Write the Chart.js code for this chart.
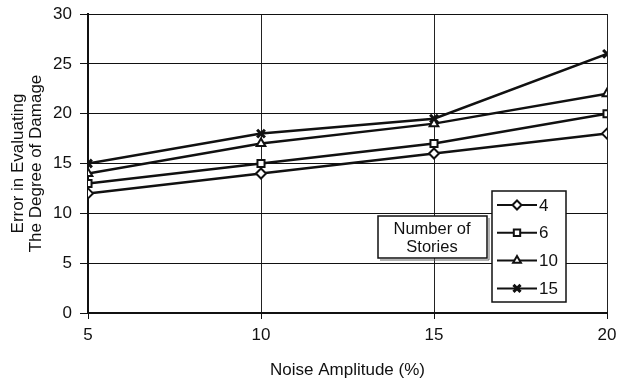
<!DOCTYPE html>
<html>
<head>
<meta charset="utf-8">
<script src="https://cdn.jsdelivr.net/npm/chart.js@4"></script>
<style>
  html, body { margin: 0; padding: 0; background: #fff; }
  #wrap { width: 617px; height: 382px; }
</style>
</head>
<body>
<div id="wrap"><canvas id="errChart" width="617" height="382"></canvas></div>
<script>
// noise amplitude (%) on the x axis
const noise = [5, 10, 15, 20];
// error for each building height
const stories4 = [12, 14, 16, 18];
const stories6 = [13, 15, 17, 20];
const stories10 = [14, 17, 19, 22];
const stories15 = [15, 18, 19.5, 26];
const seriesLabels = ["4", "6", "10", "15"];
const markers = ["rectRot", "rect", "triangle", "crossRot"];
const yTicks = [0, 5, 10, 15, 20, 25, 30];

const FONT = "'Liberation Sans', Arial, sans-serif";

const makeSet = (label, values, style) => ({
	label: label,
	data: values.map((v, i) => ({ x: noise[i], y: v })),
	borderColor: "#111",
	borderWidth: 2.5,
	pointStyle: style,
	pointRadius: style === "crossRot" ? 5.5 : 5,
	pointBorderWidth: style === "crossRot" ? 3 : 2,
	pointBackgroundColor: "#fff",
	pointBorderColor: "#111",
	tension: 0,
	fill: false,
});

// legend box + the "Number of Stories" caption beside it
const storiesLegend = {
	id: "storiesLegend",
	afterDatasetsDraw(chart) {
		const ctx = chart.ctx;
		ctx.save();
		ctx.lineWidth = 1.5;
		ctx.strokeStyle = "#111";
		ctx.fillStyle = "#fff";

		// caption box with a faint drop edge
		ctx.fillRect(378, 216, 109, 42);
		ctx.strokeRect(378, 216, 109, 42);
		ctx.beginPath();
		ctx.moveTo(489, 218);
		ctx.lineTo(489, 260);
		ctx.lineTo(380, 260);
		ctx.strokeStyle = "#666";
		ctx.lineWidth = 1;
		ctx.stroke();
		ctx.strokeStyle = "#111";
		ctx.lineWidth = 1.5;
		ctx.fillStyle = "#111";
		ctx.font = "16.5px " + FONT;
		ctx.textAlign = "center";
		ctx.textBaseline = "middle";
		ctx.fillText("Number of", 432, 229);
		ctx.fillText("Stories", 432, 247);

		// legend box
		ctx.fillStyle = "#fff";
		ctx.fillRect(492, 191, 74, 111);
		ctx.strokeRect(492, 191, 74, 111);

		chart.data.datasets.forEach((ds, i) => {
			const y = 205 + i * 27.8;
			ctx.beginPath();
			ctx.lineWidth = 2;
			ctx.moveTo(497, y);
			ctx.lineTo(537, y);
			ctx.stroke();
			ctx.lineWidth = ds.pointBorderWidth;
			ctx.fillStyle = "#fff";
			Chart.helpers.drawPoint(ctx, {
				pointStyle: ds.pointStyle,
				radius: ds.pointRadius - 0.5,
				rotation: 0,
				borderWidth: ds.pointBorderWidth,
			}, 517, y);
			ctx.fillStyle = "#111";
			ctx.textAlign = "left";
			ctx.font = "17px " + FONT;
			ctx.fillText(ds.label, 539, y + 1);
		});
		ctx.restore();
	},
};

const whiteBg = {
	id: "whiteBg",
	beforeDraw(chart) {
		const ctx = chart.ctx;
		ctx.save();
		ctx.fillStyle = "#fff";
		ctx.fillRect(0, 0, chart.width, chart.height);
		ctx.restore();
	},
};

new Chart(document.getElementById("errChart").getContext("2d"), {
	type: "line",
	data: {
		datasets: [
			makeSet(seriesLabels[0], stories4, markers[0]),
			makeSet(seriesLabels[1], stories6, markers[1]),
			makeSet(seriesLabels[2], stories10, markers[2]),
			makeSet(seriesLabels[3], stories15, markers[3]),
		],
	},
	options: {
		responsive: false,
		animation: false,
		layout: { padding: { top: 14, right: 10, left: 0, bottom: 0 } },
		plugins: {
			legend: { display: false },
			tooltip: { enabled: false },
		},
		scales: {
			x: {
				type: "linear",
				min: noise[0],
				max: noise[noise.length - 1],
				afterBuildTicks: (scale) => {
					scale.ticks = noise.map((v) => ({ value: v }));
				},
				afterFit: (scale) => {
					scale.height = 382 - 313;
					// let the last label run past the plot edge
					scale.paddingLeft = 0;
					scale.paddingRight = 0;
				},
				border: { color: "#111", width: 2 },
				grid: {
					color: "#222",
					lineWidth: 1,
					tickLength: 6,
					tickColor: "#111",
				},
				ticks: {
					color: "#111",
					font: { family: FONT, size: 17 },
					padding: 6,
					maxRotation: 0,
				},
				title: {
					display: true,
					text: "Noise Amplitude (%)",
					color: "#111",
					font: { family: FONT, size: 17, lineHeight: 1.06 },
					padding: { top: 4, bottom: 3 },
				},
			},
			y: {
				min: 0,
				max: 30,
				afterBuildTicks: (scale) => {
					scale.ticks = yTicks.map((v) => ({ value: v }));
				},
				afterFit: (scale) => {
					scale.width = 88;
					scale.paddingTop = 0;
					scale.paddingBottom = 0;
				},
				border: { color: "#111", width: 2 },
				grid: {
					color: "#111",
					lineWidth: 1,
					tickLength: 8,
					tickColor: "#111",
				},
				ticks: {
					color: "#111",
					font: { family: FONT, size: 17 },
					padding: 8,
				},
				title: {
					display: true,
					text: ["Error in Evaluating", "The Degree of Damage"],
					color: "#111",
					font: { family: FONT, size: 17, lineHeight: 1.06 },
					padding: { top: 9, bottom: 2 },
				},
			},
		},
	},
	plugins: [whiteBg, storiesLegend],
});
</script>
</body>
</html>
